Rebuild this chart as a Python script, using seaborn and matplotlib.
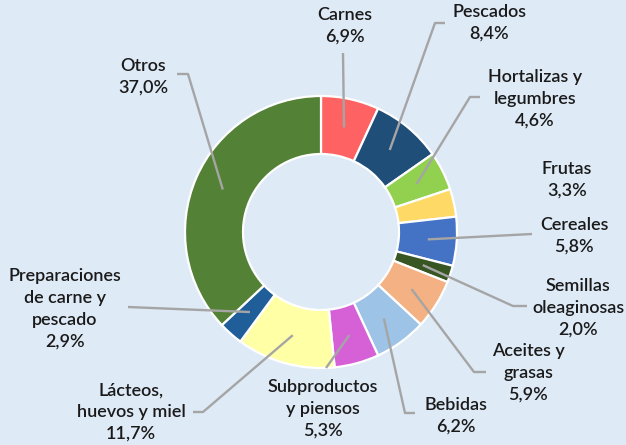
import numpy as np
import matplotlib
matplotlib.use('Agg')
import matplotlib.pyplot as plt
import seaborn as sns

# datos del gráfico
categorias = ['Carnes', 'Pescados', 'Hortalizas y\nlegumbres', 'Frutas', 'Cereales',
              'Semillas\noleaginosas', 'Aceites y\ngrasas', 'Bebidas',
              'Subproductos\ny piensos', 'Lácteos,\nhuevos y miel',
              'Preparaciones\nde carne y\npescado', 'Otros']
valores = [6.9, 8.4, 4.6, 3.3, 5.8, 2.0, 5.9, 6.2, 5.3, 11.7, 2.9, 37.0]
colores = ['#FF6262', '#1F4E79', '#92D050', '#FFD966', '#4472C4', '#375623',
           '#F4B183', '#9DC3E6', '#D661D6', '#FFFFA6', '#1F5E99', '#538135']

W, H = 626, 445
CX, CY = 321, 232      # centro del anillo (px)
R_OUT, R_IN = 136, 78
R_ANCHOR = 107

# posición de etiquetas (centro del bloque) y codos de las líneas guía, en px
pos_etiquetas = [(345, 26), (489, 23), (535, 99), (567, 180), (574, 236), (578, 308),
                 (528, 373), (456, 416), (323, 409), (131, 412), (65, 309), (143, 77)]
codos = [[(343, 53)], [(445, 23), (435, 23)], [(480, 97), (470, 97)], [],
         [(532, 234)], [(527, 306), (513, 306)], [(486, 372), (474, 372)],
         [(415, 413), (405, 413)], [(326, 368)], [(193, 412), (203, 412)],
         [(128, 307)], [(177, 74), (188, 74)]]

sns.set_style('white')
plt.rcParams['font.family'] = ['Lato', 'DejaVu Sans']

fondo = '#DEEAF6'
fig = plt.figure(figsize=(W / 100, H / 100), dpi=100, facecolor=fondo)
ax = fig.add_axes([0, 0, 1, 1])
ax.set_facecolor(fondo)

ax.pie(valores, colors=sns.color_palette(colores), startangle=90, counterclock=False,
       radius=R_OUT, center=(CX, H - CY),
       wedgeprops=dict(width=R_OUT - R_IN, edgecolor='white', linewidth=1.6))

ax.set_xlim(0, W)
ax.set_ylim(0, H)
ax.set_aspect('equal')
ax.axis('off')

total = sum(valores)
acum = 0
for i, (cat, v) in enumerate(zip(categorias, valores)):
    medio = 90 - (acum + v / 2) / total * 360
    acum += v
    ang = np.deg2rad(medio)
    ax_x = CX + R_ANCHOR * np.cos(ang)
    ax_y = CY - R_ANCHOR * np.sin(ang)
    if codos[i]:
        pts = codos[i] + [(ax_x, ax_y)]
        xs = [p[0] for p in pts]
        ys = [H - p[1] for p in pts]
        ax.plot(xs, ys, color='#A5A5A5', lw=1.7, solid_capstyle='butt', zorder=5)
    etiqueta = cat + '\n' + f'{v:.1f}'.replace('.', ',') + '%'
    tx, ty = pos_etiquetas[i]
    ax.text(tx, H - ty, etiqueta, ha='center', va='center', multialignment='center',
            fontsize=13, fontweight='semibold', color='#1A1A1A', linespacing=1.45)

plt.savefig('out.png', dpi=100, facecolor=fondo)
